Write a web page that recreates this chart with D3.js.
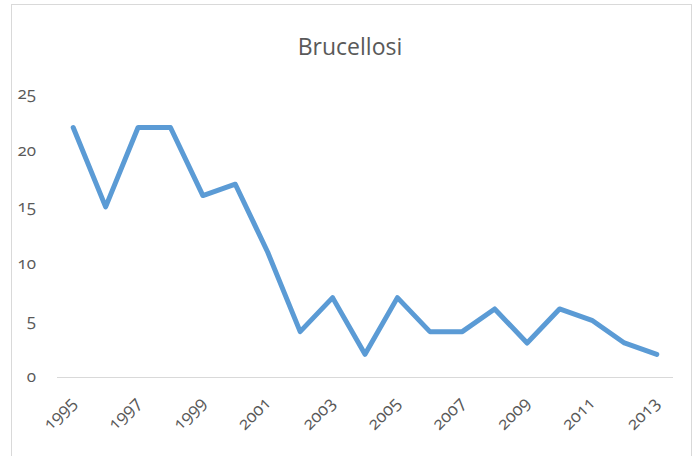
<!DOCTYPE html>
<html>
<head>
<meta charset="utf-8">
<script src="https://cdn.jsdelivr.net/npm/d3@7"></script>
<style>
  body { margin: 0; background: #fff; }
  text { font-family: "Open Sans", "Liberation Sans", sans-serif; fill: #595959; }
  .num { font-variant-numeric: oldstyle-nums; }
</style>
</head>
<body>
<svg id="chart" width="696" height="456"></svg>
<script>
// data
const years = [1995, 1996, 1997, 1998, 1999, 2000, 2001, 2002, 2003, 2004,
               2005, 2006, 2007, 2008, 2009, 2010, 2011, 2012, 2013];
const cases = [22, 15, 22, 22, 16, 17, 11, 4, 7, 2, 7, 4, 4, 6, 3, 6, 5, 3, 2];
const yTicks = [0, 5, 10, 15, 20, 25];
const title = "Brucellosi";

const svg = d3.select("#chart");

// chart frame
svg.append("rect")
    .attr("x", 11.5).attr("y", 4.5)
    .attr("width", 680).attr("height", 470)
    .attr("fill", "#fff")
    .attr("stroke", "#d9d9d9")
    .attr("stroke-width", 1);

svg.append("text")
    .attr("x", 350).attr("y", 55)
    .attr("text-anchor", "middle")
    .attr("font-size", "23px")
    .text(title);

const x = d3.scaleBand()
    .domain(years)
    .range([57, 673]);

const y = d3.scaleLinear()
    .domain([0, 25])
    .range([377, 93.5]);

// y labels, no gridlines
svg.append("g")
    .selectAll("text")
    .data(yTicks)
    .join("text")
    .attr("class", "num")
    .attr("x", 36)
    .attr("y", d => y(d))
    .attr("dy", "0.32em")
    .attr("text-anchor", "end")
    .attr("font-size", "17px")
    .text(d => d);

// category axis line
svg.append("line")
    .attr("x1", x.range()[0]).attr("x2", x.range()[1])
    .attr("y1", y(0) + 0.5).attr("y2", y(0) + 0.5)
    .attr("stroke", "#d9d9d9")
    .attr("stroke-width", 1);

// x labels, every other year, rotated
svg.append("g")
    .selectAll("text")
    .data(years.filter((d, i) => i % 2 === 0))
    .join("text")
    .attr("class", "num")
    .attr("text-anchor", "end")
    .attr("font-size", "17.5px")
    .attr("transform", d => `translate(${x(d) + x.bandwidth() / 2 + 4},${404}) rotate(-45)`)
    .text(d => d);

const line = d3.line()
    .x((d, i) => x(years[i]) + x.bandwidth() / 2)
    .y(d => y(d));

svg.append("path")
    .datum(cases)
    .attr("fill", "none")
    .attr("stroke", "#5b9bd5")
    .attr("stroke-width", 5)
    .attr("stroke-linejoin", "round")
    .attr("stroke-linecap", "round")
    .attr("d", line);
</script>
</body>
</html>
